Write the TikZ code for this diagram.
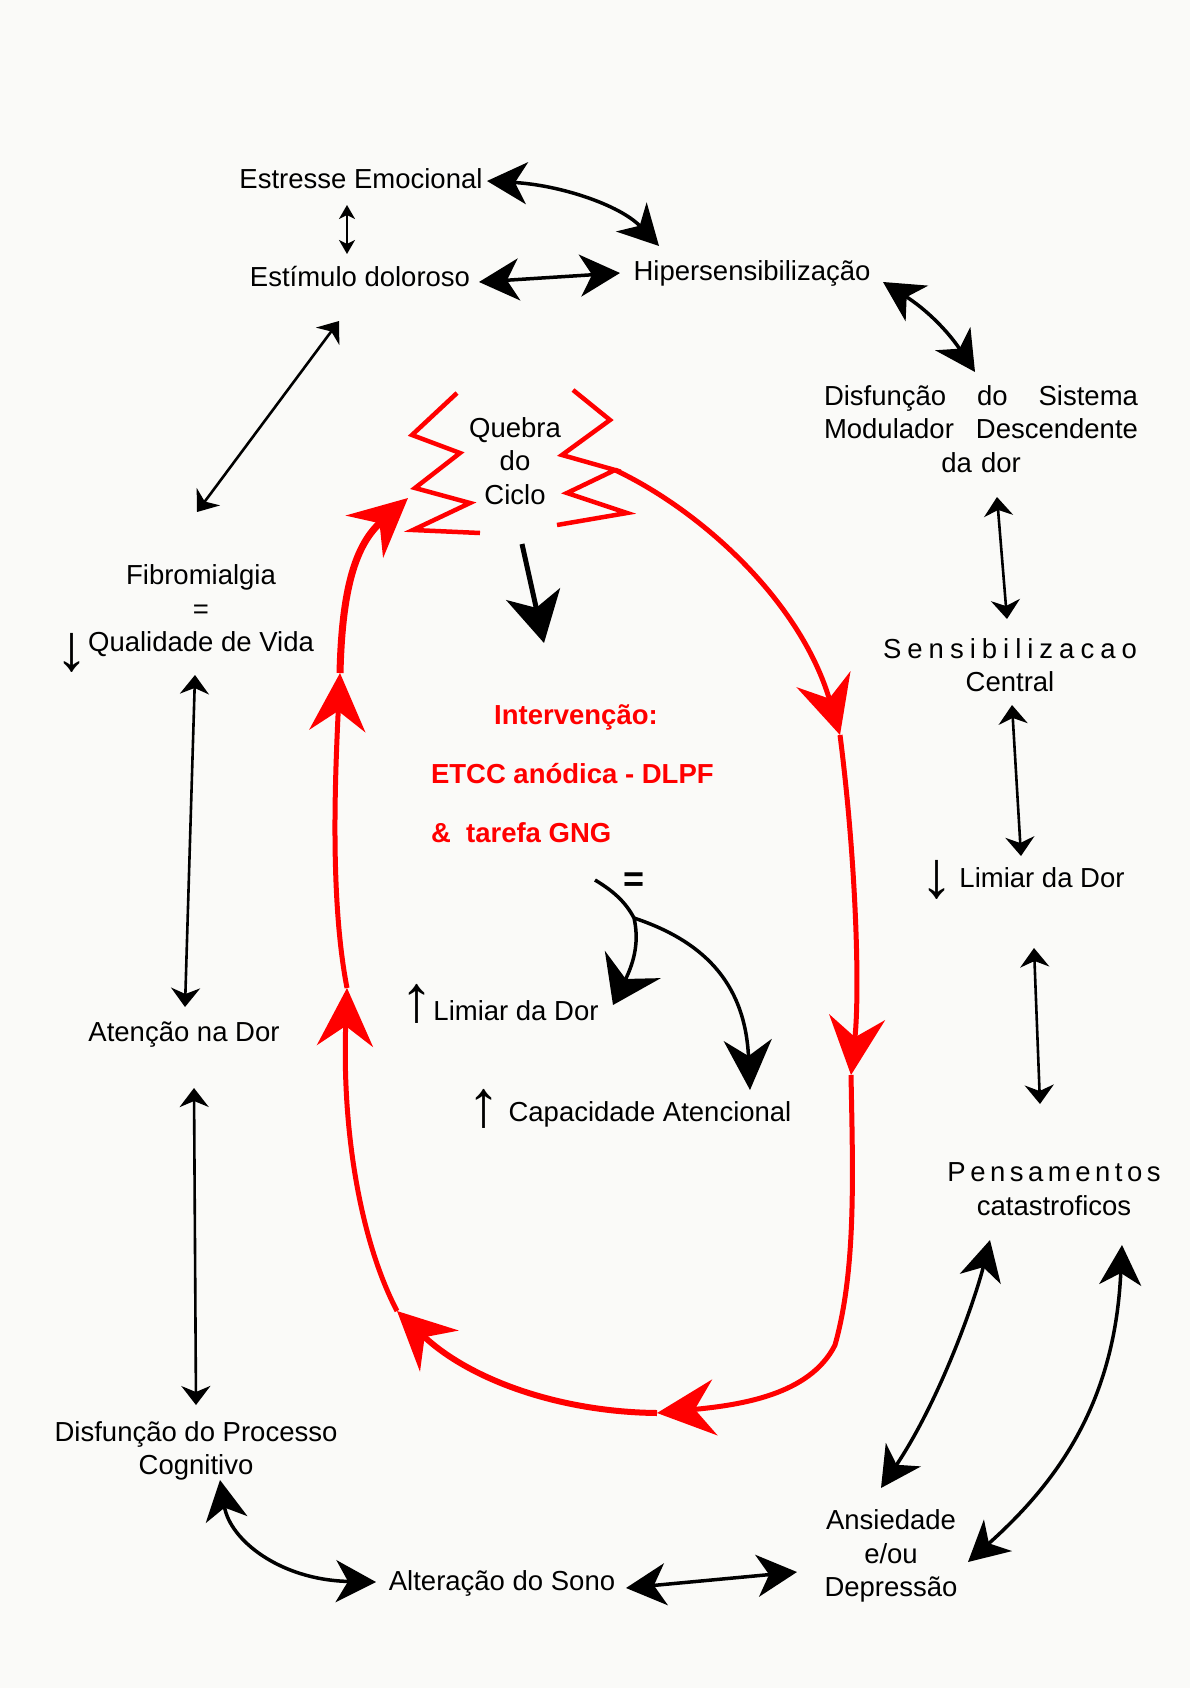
\documentclass[tikz,border=0pt]{standalone}
\usepackage{fontspec}
\usepackage{graphicx}
\setmainfont{Liberation Sans}
\usetikzlibrary{arrows.meta}
\definecolor{bgc}{RGB}{250,250,248}
\definecolor{rd}{RGB}{255,0,0}
\newcommand\tka{\kern6pt}
\newcommand\tkb{\kern4.5pt}
\begin{document}
\begin{tikzpicture}[x=1pt,y=-1pt,
  every node/.style={inner sep=0pt, outer sep=0pt, font=\fontsize{27.5}{33.5}\selectfont, text=black},
  lbl/.style={anchor=base},
  multi/.style={align=center},
  glyph/.style={anchor=center, font=\fontsize{66}{66}\selectfont},
  redtxt/.style={text=rd, font=\fontsize{27.5}{33.5}\selectfont\bfseries},
  bigar/.style={line width=3.5pt, line cap=round, arrows={Stealth[length=40pt,width=42pt,inset=12pt]-Stealth[length=40pt,width=42pt,inset=12pt]}},
  medar/.style={line width=2.6pt, arrows={Stealth[length=19pt,width=29pt,inset=6pt]-Stealth[length=19pt,width=29pt,inset=6pt]}},
  smar/.style={line width=2.2pt, arrows={Stealth[length=14pt,width=16pt,inset=4pt]-Stealth[length=14pt,width=16pt,inset=4pt]}},
  redln/.style={draw=rd, line width=4.5pt},
  redar/.style={draw=rd, line width=5pt, arrows={-Stealth[length=58pt,width=56pt,inset=20pt]}},
]
\fill[bgc] (0,0) rectangle (1190,1688);
\useasboundingbox (0,0) rectangle (1190,1688);

% nodes
\node[lbl] (est) at (361,189) {Estresse Emocional};
\node[lbl] (estim) at (360,287) {Estímulo doloroso};
\node[lbl] (hiper) at (752,280) {Hipersensibilização};
\node[multi, text width=314pt] (dsmd) at (981,429) {Disfunção\hfill do\hfill Sistema\\Modulador\hfill Descendente\\da dor};
\node[multi] (sens) at (1010,665) {S\tka e\tka n\tka s\tka i\tka b\tka i\tka l\tka i\tka z\tka a\tka c\tka a\tka o\\Central};
\node[lbl] (limR) at (1042,887) {Limiar da Dor};
\node[glyph] (limRa) at (937,880) {↓};
\node[multi] (pens) at (1054,1189) {P\tkb e\tkb n\tkb s\tkb a\tkb m\tkb e\tkb n\tkb t\tkb o\tkb s\\catastroficos};
\node[multi] (ans) at (891,1556) {Ansiedade\\e/ou\\Depressão};
\node[lbl] (sono) at (502,1590) {Alteração do Sono};
\node[multi] (dpc) at (196,1451) {Disfunção do Processo\\Cognitivo};
\node[lbl] (aten) at (184,1041) {Atenção na Dor};
\node[multi] (fibro) at (201,611) {Fibromialgia\\=\\Qualidade de Vida};
\node[glyph] (fibroa) at (72,653) {↓};
\node[multi] (quebra) at (515,461) {Quebra\\do\\Ciclo};
\node[lbl, redtxt] (int1) at (576,724) {Intervenção:};
\node[anchor=base west, redtxt] (int2) at (431,783) {ETCC anódica - DLPF};
\node[anchor=base west, redtxt] (int3) at (431,842) {\&~~tarefa GNG};
\node[anchor=center, font=\fontsize{36}{40}\selectfont\bfseries] (eq) at (634,882) {=};
\node[lbl] (limL) at (516,1020) {Limiar da Dor};
\node[glyph] (limLa) at (417,1004) {↑};
\node[lbl] (cap) at (650,1121) {Capacidade Atencional};
\node[glyph] (capa) at (484,1109) {↑};

% black connectors
\draw[smar] ([shift={(-14,16)}]est.base) -- ([shift={(-13,-33)}]estim.base);
\draw[bigar] ([shift={(126,-8)}]est.base) .. controls +(73,4) and +(-39,-41) .. ([shift={(-93,-34)}]hiper.base);
\draw[bigar] ([shift={(119,-5)}]estim.base) -- ([shift={(-132,-7)}]hiper.base);
\draw[bigar] ([shift={(131,2)}]hiper.base) to[bend left=12] ([shift={(-6,-57)}]dsmd.center);
\draw[medar] ([shift={(16,68)}]dsmd.center) -- ([shift={(-3,-46)}]sens.center);
\draw[medar] ([shift={(2,40)}]sens.center) -- ([shift={(-21,-31)}]limR.base);
\draw[medar] ([shift={(-8,61)}]limR.base) -- ([shift={(-14,-85)}]pens.center);
\draw[bigar] ([shift={(-64,51)}]pens.center) .. controls +(-15,60) and +(59,-88) .. ([shift={(-10,-68)}]ans.center);
\draw[bigar] ([shift={(68,56)}]pens.center) .. controls +(-7,155) and +(92,-82) .. ([shift={(77,6)}]ans.center);
\draw[bigar] ([shift={(-94,16)}]ans.center) -- ([shift={(124,-2)}]sono.base);
\draw[bigar] ([shift={(24,29)}]dpc.center) .. controls +(10,60) and +(-96,-2) .. ([shift={(-126,-8)}]sono.base);
\draw[medar] ([shift={(0,-46)}]dpc.center) -- ([shift={(10,47)}]aten.base);
\draw[medar] ([shift={(1,-34)}]aten.base) -- ([shift={(-6,64)}]fibro.center);
\draw[medar] ([shift={(-4,-99)}]fibro.center) -- ([shift={(-21,34)}]estim.base);

% quebra arrow
\draw[line width=5pt, -{Stealth[length=50pt,width=55pt,inset=14pt]}] ([shift={(7,83)}]quebra.center) -- ([shift={(-32,-81)}]int1.base);

% "=" branches
\coordinate (br) at ([shift={(0,36)}]eq.center);
\draw[line width=3.5pt] ([shift={(-39,-2)}]eq.center) .. controls +(20,12) and +(-8,-15) .. (br);
\draw[line width=3.5pt, -{Stealth[length=45pt,width=62pt,inset=16pt]}] (br) .. controls +(5,22) and +(22,-45) .. ([shift={(97,-15)}]limL.base);
\draw[line width=3.5pt, -{Stealth[length=50pt,width=48pt,inset=16pt]}] (br) .. controls +(66,22) and +(-5,-110) .. ([shift={(100,-31)}]cap.base);

% red cycle
\coordinate (z0) at (615,470);
\coordinate (t1) at (840,735);
\coordinate (t2) at (851,1075);
\coordinate (t3) at (657,1413);
\coordinate (t4) at (397,1311);
\coordinate (t5) at (347,988);
\coordinate (t6) at (340,673);
\coordinate (t7) at (408,498);
\draw[redar] (z0) .. controls +(85,40) and +(-40,-135) .. (t1);
\draw[redar] (t1) .. controls +(16,125) and +(9,-85) .. (t2);
\draw[redar] (t2) .. controls +(2,103) and +(21,-75) .. (835,1345) .. controls +(-25,50) and +(83,-8) .. (t3);
\draw[redar, line width=6pt] (t3) .. controls +(-97,-1) and +(73,69) .. (t4);
\draw[redar] (t4) .. controls +(-37,-71) and +(-5,142) .. (t5);
\draw[redar] (t5) .. controls +(-17,-88) and +(-5,107) .. (t6);
\draw[redar, line width=7pt] (t6) .. controls +(2,-83) and +(-53,47) .. (t7);

% zigzags
\draw[redln] (457,393) -- (412,435) -- (460,453) -- (415,488) -- (470,503) -- (413,530) -- (480,533);
\draw[redln] (573,390) -- (610,420) -- (562,455) -- (615,470) -- (567,493) -- (627,513) -- (557,525);
\end{tikzpicture}
\end{document}
